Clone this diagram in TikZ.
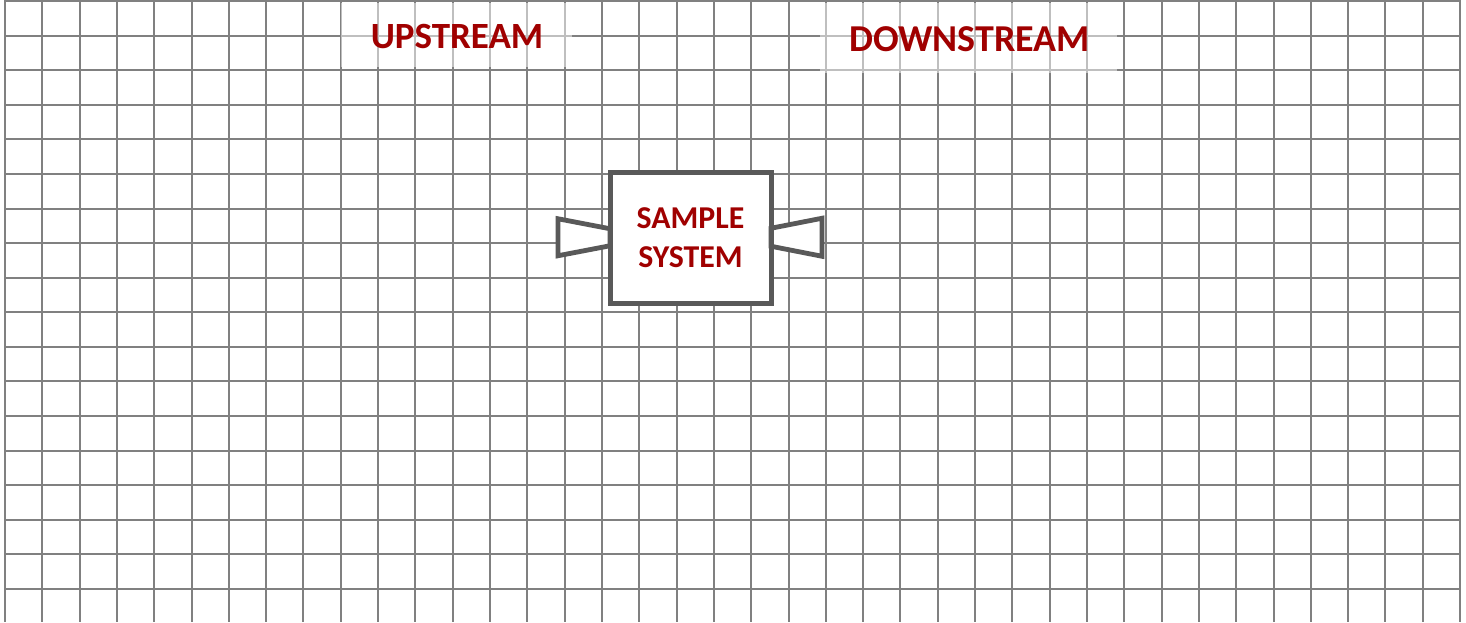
\documentclass[tikz,border=0pt]{standalone}
\usepackage{fontspec}
\setmainfont{Carlito}
\usetikzlibrary{calc,positioning}
\definecolor{gridgray}{RGB}{128,128,128}
\definecolor{boxgray}{RGB}{89,89,89}
\definecolor{labelred}{RGB}{160,0,0}

\begin{document}
\begin{tikzpicture}[x=0.5pt,y=-0.5pt,
	gridline/.style={gridgray,line width=1pt},
	veil/.style={white,opacity=0.5},
	sidelabel/.style={text=labelred,font=\bfseries\fontsize{18.5}{20}\selectfont,inner sep=0pt},
	sysbox/.style={draw=boxgray,fill=white,line width=2.5pt,outer sep=0pt,minimum width=80.5pt,minimum height=65.75pt,
		text=labelred,font=\bfseries\fontsize{15.9}{19.5}\selectfont,align=center},
	port/.style={draw=boxgray,fill=white,line width=2.4pt}]
	\useasboundingbox (0,0) rectangle (1466,622);

	% squared paper
	\foreach \i in {0,...,39}{
	\draw[gridline] (5+37.31*\i,0) -- (5+37.31*\i,622);
	}
	\foreach \j in {0,...,17}{
	\draw[gridline] (5,1+34.59*\j) -- (1460,1+34.59*\j);
	}

	\fill[veil] (341,3) rectangle (572,67);
	\fill[veil] (820,3) rectangle (1117,73);

	\node[sidelabel] (upstream) at (457,36.5) {UPSTREAM};
	\node[sidelabel,font=\bfseries\fontsize{19}{20}\selectfont] (downstream) at (969.5,39.5) {DOWNSTREAM};

	\node[sysbox] (sample) at (690.5,237.75) {SAMPLE\\SYSTEM};

	% inlet and outlet
	\draw[port] ($(sample.west)+(0,-9)$) -- ($(sample.west)+(-52,-19)$) -- ($(sample.west)+(-52,18)$) -- ($(sample.west)+(0,8)$) -- cycle;
	\draw[port] ($(sample.east)+(0,-9.5)$) -- ($(sample.east)+(51,-19.5)$) -- ($(sample.east)+(51,18.5)$) -- ($(sample.east)+(0,8.5)$) -- cycle;
	\draw[draw=boxgray,line width=2.5pt] (sample.north west) rectangle (sample.south east);
	\end{tikzpicture}
\end{document}
